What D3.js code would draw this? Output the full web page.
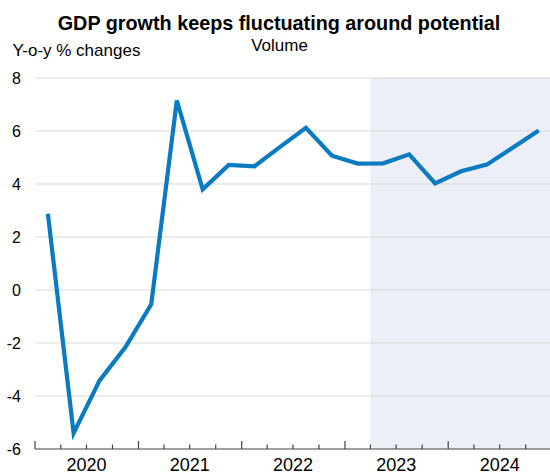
<!DOCTYPE html>
<html>
<head>
<meta charset="utf-8">
<script src="https://cdn.jsdelivr.net/npm/d3@7"></script>
<style>
  body { margin: 0; background: #fff; }
  svg text { font-family: "Liberation Sans", Arial, sans-serif; fill: #000; }
</style>
</head>
<body>
<svg id="chart"></svg>
<script>
// quarterly data, y-o-y % changes
const quarters = ["2020Q1", "2020Q2", "2020Q3", "2020Q4",
                  "2021Q1", "2021Q2", "2021Q3", "2021Q4",
                  "2022Q1", "2022Q2", "2022Q3", "2022Q4",
                  "2023Q1", "2023Q2", "2023Q3", "2023Q4",
                  "2024Q1", "2024Q2", "2024Q3", "2024Q4"]
const gdpGrowth = [2.88, -5.4, -3.42, -2.15,
                   -0.54, 7.15, 3.8, 4.72,
                   4.67, 5.4, 6.12, 5.07,
                   4.77, 4.78, 5.12, 4.02,
                   4.48, 4.73, 5.37, 6.02]
const yTicks = [-6, -4, -2, 0, 2, 4, 6, 8]
const yearLabels = [2020, 2021, 2022, 2023, 2024]
const forecastStart = "2023Q2"

let width = 550, height = 473
let margin = { top: 78, right: 0, bottom: 24, left: 35 }

let svg = d3.select('#chart')
    .attr('width', width)
    .attr('height', height)

// quarter label -> date (start of quarter, optional offset in months)
function qDate(q, offset) {
    let y = +q.slice(0, 4), n = +q.slice(5)
    return new Date(y, (n - 1) * 3 + (offset || 0), 1)
}
function qMid(q) {
    let a = qDate(q), b = qDate(q, 3)
    return new Date((a.getTime() + b.getTime()) / 2)
}

let x = d3.scaleTime()
    .domain([new Date(2020, 0, 1), new Date(2025, 0, 1)])
    .range([margin.left, margin.left + 516.7])
let y = d3.scaleLinear()
    .domain([-6, 8])
    .range([height - margin.bottom, margin.top])

// forecast shading
svg.append('rect')
    .attr('x', x(qDate(forecastStart)))
    .attr('y', y(8))
    .attr('width', width - x(qDate(forecastStart)))
    .attr('height', y(-6) - y(8))
    .attr('fill', '#eceff7')

// gridlines
svg.selectAll('.grid')
    .data(yTicks.filter(d => d > -6))
    .enter().append('line')
    .attr('x1', margin.left)
    .attr('x2', width)
    .attr('y1', d => y(d))
    .attr('y2', d => y(d))
    .attr('stroke', '#d9d9d9')
    .attr('stroke-width', 1)

// y labels
svg.selectAll('.ylab')
    .data(yTicks)
    .enter().append('text')
    .attr('x', 21)
    .attr('y', d => y(d))
    .attr('dy', '0.36em')
    .attr('text-anchor', 'end')
    .style('font-size', '16px')
    .text(d => d)

// x axis with quarterly ticks pointing up
let baseY = y(-6)
svg.append('line')
    .attr('x1', margin.left)
    .attr('x2', width)
    .attr('y1', baseY)
    .attr('y2', baseY)
    .attr('stroke', '#444')
    .attr('stroke-width', 1.2)

let qTicks = d3.timeMonth.every(3).range(new Date(2020, 0, 1), new Date(2025, 0, 1))
svg.selectAll('.xtick')
    .data(qTicks)
    .enter().append('line')
    .attr('x1', d => x(d))
    .attr('x2', d => x(d))
    .attr('y1', baseY)
    .attr('y2', d => d.getMonth() == 0 ? baseY - 8 : baseY - 4.5)
    .attr('stroke', '#444')
    .attr('stroke-width', 1.2)

svg.selectAll('.xlab')
    .data(yearLabels)
    .enter().append('text')
    .attr('x', d => x(new Date(d, 6, 1)))
    .attr('y', 470.5)
    .attr('text-anchor', 'middle')
    .style('font-size', '18px')
    .text(d => d)

// the line
let line = d3.line()
    .x((d, i) => x(qMid(quarters[i])))
    .y(d => y(d))

svg.append('path')
    .datum(gdpGrowth)
    .attr('d', line)
    .attr('fill', 'none')
    .attr('stroke', '#0a7bc2')
    .attr('stroke-width', 4.2)
    .attr('stroke-linejoin', 'miter')

// titles
svg.append('text')
    .attr('x', 279)
    .attr('y', 30)
    .attr('text-anchor', 'middle')
    .style('font-size', '19.8px')
    .style('font-weight', 'bold')
    .text('GDP growth keeps fluctuating around potential')

svg.append('text')
    .attr('x', 279.5)
    .attr('y', 51)
    .attr('text-anchor', 'middle')
    .style('font-size', '17px')
    .text('Volume')

svg.append('text')
    .attr('x', 12.5)
    .attr('y', 56)
    .style('font-size', '17px')
    .text('Y-o-y % changes')
</script>
</body>
</html>
